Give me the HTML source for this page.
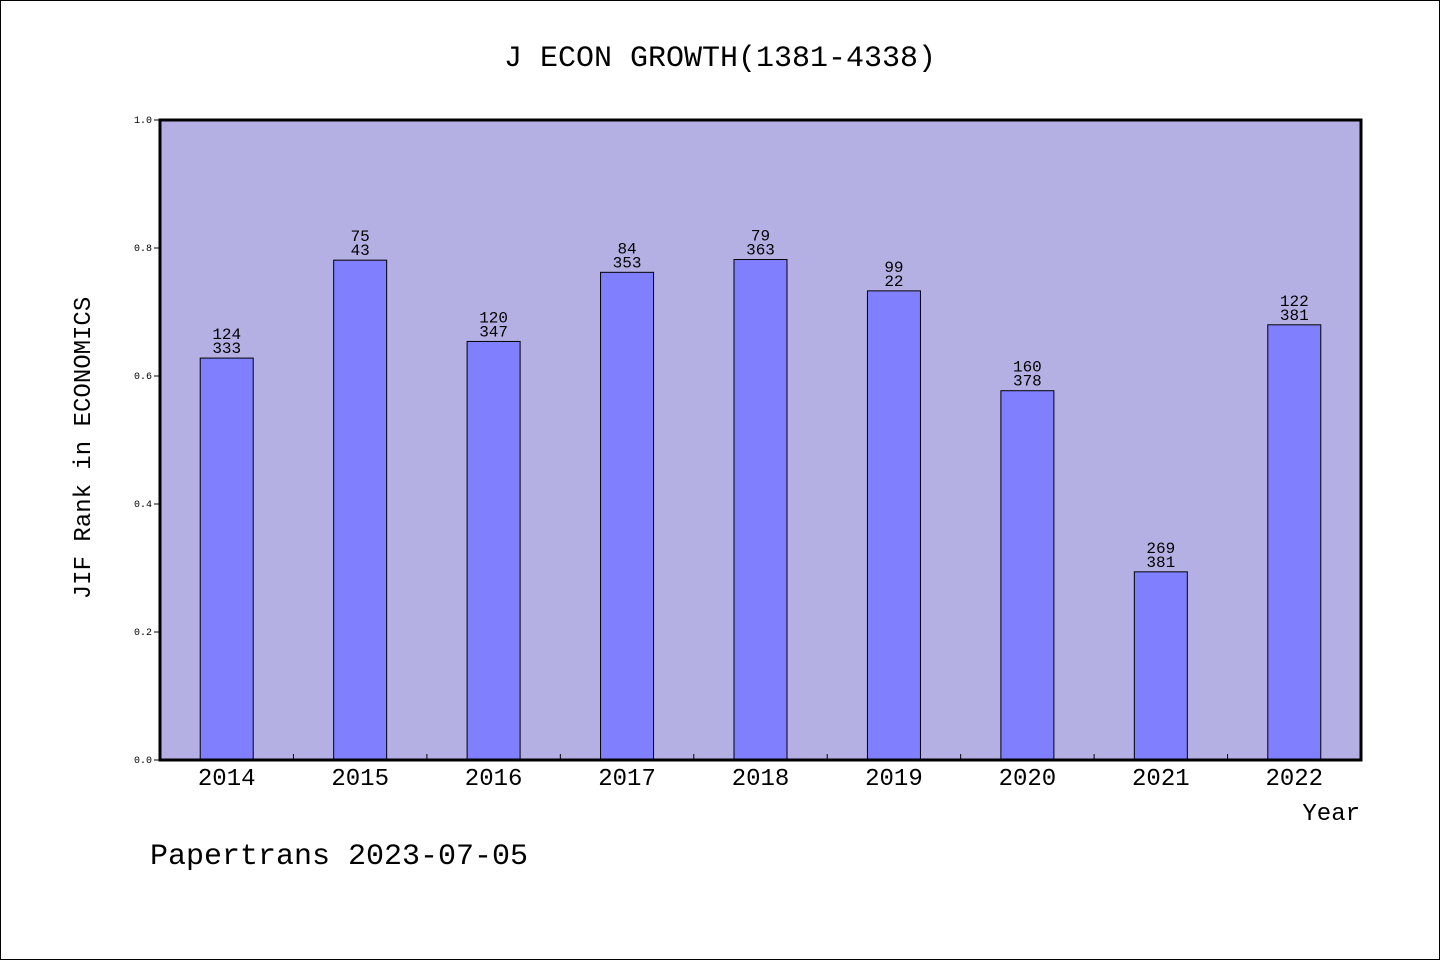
<!DOCTYPE html>
<html><head><meta charset="utf-8"><style>
body{margin:0;background:#fff;}
svg{display:block;font-family:"Liberation Mono","WenQuanYi Zen Hei",monospace;}
</style></head><body>
<svg id="chart" width="1440" height="960" xmlns="http://www.w3.org/2000/svg">
<rect x="0.5" y="0.5" width="1439" height="959" fill="#fff" stroke="#000"/>
<text x="720" y="66" font-size="30" text-anchor="middle">J ECON GROWTH(1381-4338)</text>
<rect x="160" y="120" width="1201" height="640" fill="#b5b0e3"/>
<g id="bars"></g>
<rect x="160" y="120" width="1201" height="640" fill="none" stroke="#000" stroke-width="3"/>
<text x="90" y="448" font-size="24" text-anchor="middle" transform="rotate(-90 90 448)">JIF Rank in ECONOMICS</text>
<text x="1360" y="820" font-size="24" text-anchor="end">Year</text>
<text x="150" y="864" font-size="30">Papertrans 2023-07-05</text>
</svg>
<script>
const years=["2014","2015","2016","2017","2018","2019","2020","2021","2022"];
const values=[0.628,0.781,0.654,0.762,0.782,0.733,0.577,0.294,0.680];
const ranks=["124","75","120","84","79","99","160","269","122"];
const totals=["333","43","347","353","363","22","378","381","381"];
const yTicks=[0,0.2,0.4,0.6,0.8,1.0];
const X0=160,X1=1361,Y0=760,Y1=120;
const ns="http://www.w3.org/2000/svg";
const g=document.getElementById('bars');
const bw=(X1-X0)/years.length;
function xc(i){return X0+(i+0.5)*bw;}
function y(v){return Y0-(v)*(Y0-Y1);}
function mk(t,a){const e=document.createElementNS(ns,t);for(const k in a)e.setAttribute(k,a[k]);g.appendChild(e);return e;}
years.forEach((yr,i)=>{
 const r=mk('rect',{x:xc(i)-26.5,y:y(values[i]),width:53,height:Y0-y(values[i]),fill:'#8080ff',stroke:'#000','stroke-width':1});
 
 
 const t1=mk('text',{x:xc(i),y:y(values[i])-19,'font-size':16,'text-anchor':'middle'});t1.textContent=ranks[i];
 
 
 const t2=mk('text',{x:xc(i),y:y(values[i])-5,'font-size':16,'text-anchor':'middle'});t2.textContent=totals[i];
 
 
 const tl=mk('text',{x:xc(i),y:785,'font-size':24,'text-anchor':'middle'});tl.textContent=yr;
 
 
 if(i>0){const tk=mk('line',{x1:X0+i*bw,x2:X0+i*bw,y1:Y0,y2:Y0-6,stroke:'#000'});
 
 }
});
yTicks.forEach(v=>{
 const tk=mk('line',{x1:X0-6,x2:X0,y1:y(v),y2:y(v),stroke:'#000'});
 
 
 const t=mk('text',{x:X0-8,y:y(v)+3,'font-size':10,'text-anchor':'end'});t.textContent=v.toFixed(1);
 
 
});
</script>
</body></html>
